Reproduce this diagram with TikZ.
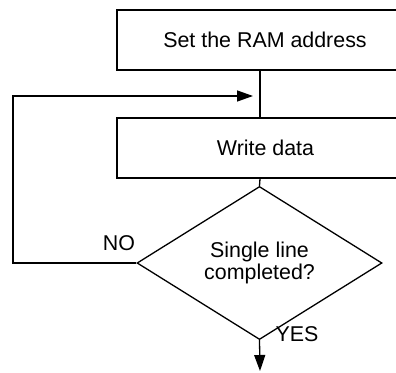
\documentclass[tikz,border=0pt]{standalone}
\usepackage{fontspec}
\setmainfont{Liberation Sans}
\usetikzlibrary{shapes.geometric,arrows.meta}
\begin{document}
\begin{tikzpicture}[x=1pt,y=-1pt,
  every node/.style={font=\fontsize{21.4}{23.5}\selectfont},
  procbox/.style={draw,line width=1.3pt,minimum width=286pt,minimum height=60pt,inner sep=0pt},
  decision/.style={draw,diamond,line width=1.3pt,minimum width=245pt,minimum height=120pt,inner sep=0pt,align=center},
  lbl/.style={inner sep=0pt},
  flow/.style={line width=1.3pt},
  arr/.style={flow,-{Triangle[length=16pt,width=11pt]}}]
\useasboundingbox (0,0) rectangle (396,372);
\clip (0,0) rectangle (396,372);
\node[procbox] (ram) at (260,40) {\hspace*{10pt}Set the RAM address};
\node[procbox] (write) at (260,148) {\hspace*{11pt}Write data};
\node[decision] (dec) at (259.5,263) {Single line\\[-1pt]completed?};
\coordinate (join) at (260,96);
\coordinate (lc) at (13,263);
\coordinate (ltop) at (13,96);
\coordinate (tip) at (253,96);
\coordinate (endp) at (260,371);
\draw[flow] (ram.south) -- (write.north);
\draw[flow] (write.south) -- (dec.north);
\draw[arr] (dec.west) -- (lc) -- (ltop) -- (tip);
\draw[arr] (dec.south) -- (endp);
\node[lbl] (no) at (119,243) {NO};
\node[lbl] (yes) at (297,334) {YES};
\end{tikzpicture}
\end{document}
